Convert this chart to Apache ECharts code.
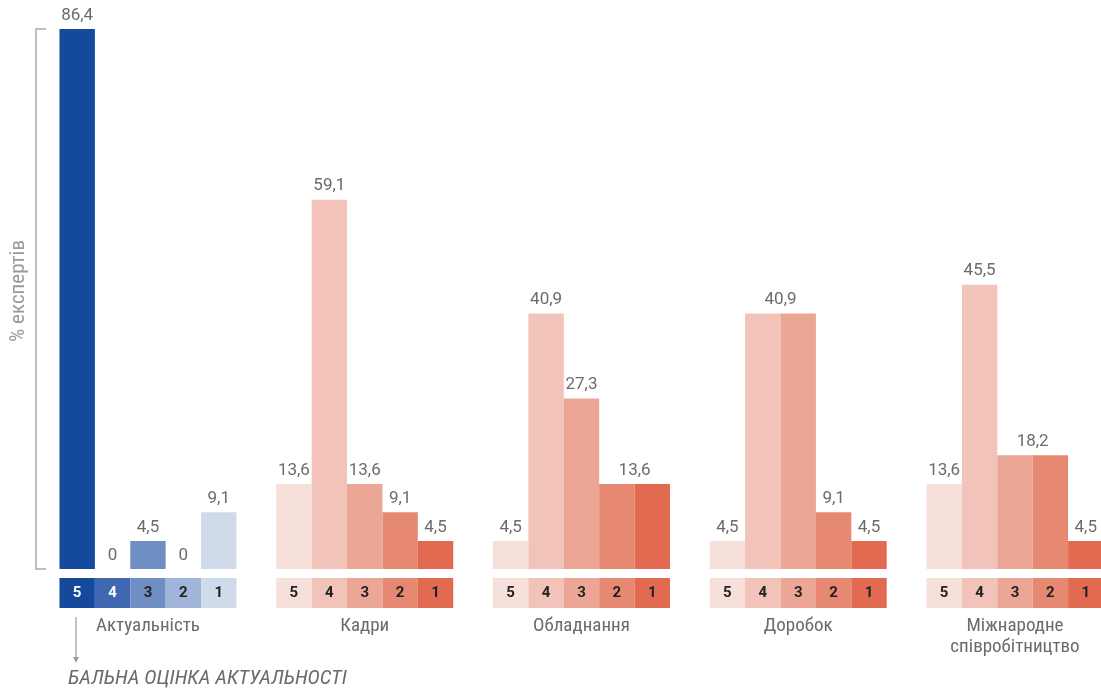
<!DOCTYPE html>
<html>
<head>
<meta charset="utf-8">
<script src="https://cdn.jsdelivr.net/npm/echarts@6/dist/echarts.min.js"></script>
<style>
  html, body { margin: 0; padding: 0; background: #fff; }
  #chart { width: 1101px; height: 693px; }
</style>
</head>
<body>
<div id="chart"></div>
<script>
// Ratings of each aspect: share of experts (%) giving scores 5..1
const categories = ['Актуальність', 'Кадри', 'Обладнання', 'Доробок', 'Міжнародне\nспівробітництво'];
const scores = ['5', '4', '3', '2', '1'];
const aktualnist = [86.4, 0, 4.5, 0, 9.1];
const kadry = [13.6, 59.1, 13.6, 9.1, 4.5];
const obladnannia = [4.5, 40.9, 27.3, 13.6, 13.6];
const dorobok = [4.5, 40.9, 40.9, 9.1, 4.5];
const spivpratsia = [13.6, 45.5, 18.2, 18.2, 4.5];
const yTicks = [0, 86.4];

const byCategory = [aktualnist, kadry, obladnannia, dorobok, spivpratsia];

const bluePalette = ['#15499c', '#3f68b1', '#6f8fc4', '#a1b4d9', '#cfdbeb'];
const redPalette = ['#f7dfda', '#f2c3b8', '#eba696', '#e78873', '#e16a50'];
const scoreTextColors = ['#ffffff', '#ffffff', '#222222', '#222222', '#222222'];
const boxTextRed = '#222222';

const FONT = '"Roboto Condensed", "Liberation Sans Narrow", Roboto, sans-serif';
const BAR_W = 35.4;
const GRID_LEFT = 39.6;
const GRID_W = 1083.75;

function colorFor(catIdx, scoreIdx) {
  return catIdx === 0 ? bluePalette[scoreIdx] : redPalette[scoreIdx];
}

const fmt = v => String(v).replace('.', ',');

// value bars: one series per score
const valueSeries = scores.map((s, si) => ({
  type: 'bar',
  name: s,
  xAxisIndex: 0,
  yAxisIndex: 0,
  barWidth: BAR_W,
  barGap: '0%',
  data: byCategory.map((vals, ci) => {
    const v = vals[si];
    const sameAsPrev = si > 0 && vals[si - 1] === v;
    const sameAsNext = si < vals.length - 1 && vals[si + 1] === v && v !== 0;
    return {
      value: v,
      itemStyle: { color: colorFor(ci, si) },
      label: {
        show: !sameAsPrev || v === 0,
        offset: sameAsNext && !sameAsPrev ? [BAR_W / 2, 0] : [0, 0]
      }
    };
  }),
  label: {
    show: true,
    position: 'top',
    distance: 5,
    color: '#6b6b6b',
    fontSize: 17,
    fontFamily: 'Roboto, sans-serif',
    formatter: p => fmt(p.value)
  }
}));

// score boxes under the axis
const boxSeries = scores.map((s, si) => ({
  type: 'bar',
  name: 'box' + s,
  xAxisIndex: 1,
  yAxisIndex: 1,
  barWidth: BAR_W,
  barGap: '0%',
  silent: true,
  data: byCategory.map((vals, ci) => ({
    value: 1,
    itemStyle: { color: colorFor(ci, si) },
    label: { color: ci === 0 ? scoreTextColors[si] : boxTextRed }
  })),
  label: {
    show: true,
    position: 'inside',
    formatter: () => s,
    fontSize: 15,
    fontWeight: 'bold',
    fontFamily: 'Roboto, sans-serif'
  }
}));

const chart = echarts.init(document.getElementById('chart'), null, { renderer: 'canvas' });

chart.setOption({
  animation: false,
  backgroundColor: '#ffffff',
  grid: [
    { left: GRID_LEFT, width: GRID_W, top: 29, height: 540, outerBoundsMode: 'none', containLabel: false },
    { left: GRID_LEFT, width: GRID_W, top: 578, height: 30, outerBoundsMode: 'none', containLabel: false }
  ],
  xAxis: [
    {
      gridIndex: 0,
      type: 'category',
      data: categories,
      axisLine: { show: false },
      axisTick: { show: false },
      axisLabel: { show: false }
    },
    {
      gridIndex: 1,
      type: 'category',
      data: categories,
      axisLine: { show: false },
      axisTick: { show: false },
      axisLabel: {
        show: true,
        margin: 8,
        color: '#6b6b6b',
        fontSize: 19,
        lineHeight: 21,
        fontFamily: FONT
      }
    }
  ],
  yAxis: [
    {
      gridIndex: 0,
      type: 'value',
      min: yTicks[0],
      max: yTicks[1],
      interval: yTicks[1] - yTicks[0],
      offset: 3.6,
      splitLine: { show: false },
      axisLine: { show: true, lineStyle: { color: '#aaaaaa', width: 1.5 } },
      axisTick: { show: true, inside: true, length: 10, lineStyle: { color: '#aaaaaa', width: 1.5 } },
      axisLabel: { show: false }
    },
    {
      gridIndex: 1,
      type: 'value',
      min: 0,
      max: 1,
      show: false
    }
  ],
  series: valueSeries.concat(boxSeries),
  graphic: [
    {
      type: 'text',
      x: 19,
      y: 291,
      rotation: Math.PI / 2,
      style: {
        text: '% експертів',
        fill: '#9a9a9a',
        font: '21px ' + FONT,
        align: 'center',
        verticalAlign: 'middle'
      }
    },
    {
      type: 'line',
      shape: { x1: 76, y1: 617, x2: 76, y2: 661 },
      style: { stroke: '#9a9a9a', lineWidth: 1.2 }
    },
    {
      type: 'polygon',
      shape: { points: [[73, 657], [79, 657], [76, 663]] },
      style: { fill: '#9a9a9a' }
    },
    {
      type: 'text',
      x: 68,
      y: 679,
      style: {
        text: 'БАЛЬНА ОЦІНКА АКТУАЛЬНОСТІ',
        fill: '#6b6b6b',
        font: 'italic 21px ' + FONT,
        align: 'left',
        verticalAlign: 'middle'
      }
    }
  ]
});
</script>
</body>
</html>
